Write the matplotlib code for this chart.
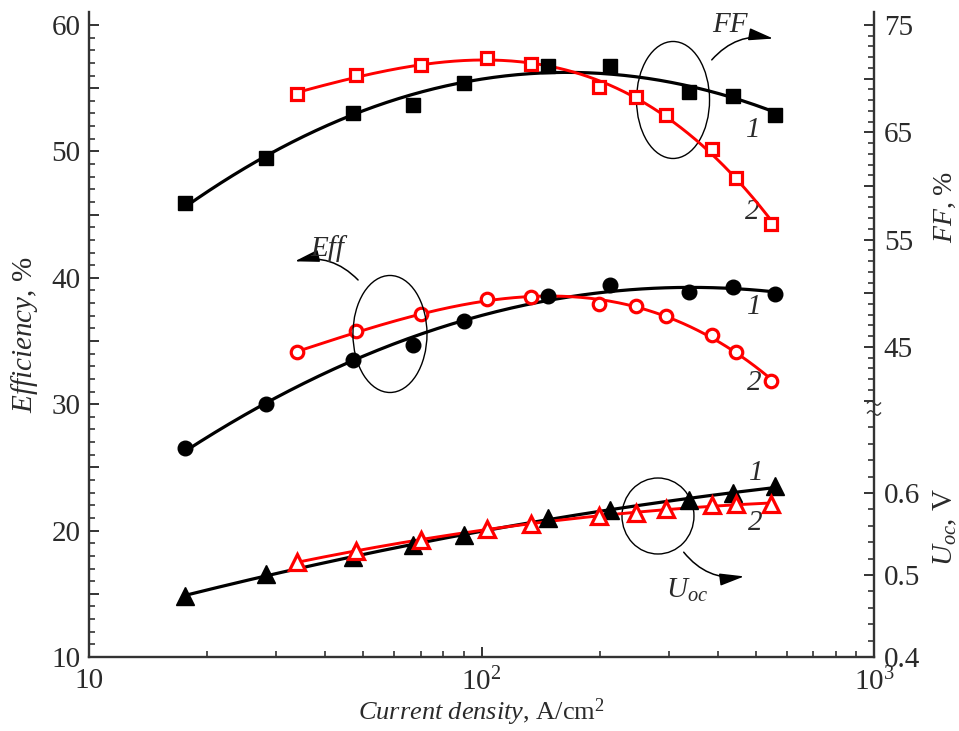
import numpy as np
import matplotlib
matplotlib.use('Agg')
import matplotlib.pyplot as plt
from matplotlib.patches import Ellipse, Rectangle
from matplotlib.ticker import FixedLocator, NullFormatter, FixedFormatter

plt.rcParams['font.family'] = ['Liberation Serif', 'DejaVu Serif']
plt.rcParams['mathtext.fontset'] = 'custom'
plt.rcParams['mathtext.rm'] = 'Liberation Serif'
plt.rcParams['mathtext.it'] = 'Liberation Serif:italic'
plt.rcParams['mathtext.bf'] = 'Liberation Serif:bold'

# ---- data ----
x_black = [17.6, 28.3, 47.0, 66.9, 90.2, 148, 212, 338, 437, 560]
x_red = [33.9, 48.0, 70.2, 103, 134, 199, 248, 295, 386, 445, 548]
eff_black = [26.5, 30.0, 33.5, 34.7, 36.6, 38.6, 39.4, 38.9, 39.3, 38.7]
eff_red = [34.1, 35.8, 37.1, 38.3, 38.5, 37.9, 37.8, 37.0, 35.5, 34.1, 31.8]
ff_black = [58.4, 62.6, 66.8, 67.5, 69.6, 71.2, 71.2, 68.8, 68.4, 66.6]
ff_red = [68.6, 70.3, 71.3, 71.9, 71.4, 69.2, 68.3, 66.6, 63.4, 60.7, 56.5]
uoc_black = [0.474, 0.501, 0.522, 0.537, 0.549, 0.569, 0.579, 0.592, 0.600, 0.608]
uoc_red = [0.516, 0.529, 0.543, 0.556, 0.562, 0.572, 0.576, 0.580, 0.585, 0.587, 0.586]

x_ticks = [10, 100, 1000]
x_ticklabels = ['10', '10$^2$', '10$^3$']
eff_ticks = [10, 20, 30, 40, 50, 60]
ff_ticks = [45, 55, 65, 75]
uoc_ticks = [0.4, 0.5, 0.6]

RED = '#ff0000'
TXT = '#2a2a2a'
SP = '#333333'
FS = 21

fig = plt.figure(figsize=(9.59, 7.31), dpi=100)
ax = fig.add_axes([89/959, 1-657/731, 785/959, 645/731])
ax_ff = ax.twinx()
ax_u = ax.twinx()

for a in (ax, ax_ff, ax_u):
    a.set_xscale('log')
    a.set_xlim(10, 1000)
    a.patch.set_visible(False)

ax.set_ylim(10, 61.03)
k = 12.64 / 10.73
ax_ff.set_ylim(75 - 50 * k, 75 + 1.03 * k)
ax_u.set_ylim(0.4, 0.4 + 645 / 820)


def fit(x, y, deg):
    lx = np.log10(x)
    p = np.polyfit(lx, y, deg)
    xs = np.linspace(lx.min(), lx.max(), 200)
    return 10 ** xs, np.polyval(p, xs)

# lines
xb = np.array(x_black); xr = np.array(x_red)
for a, yb, yr, db, dr in ((ax, eff_black, eff_red, 2, 3),
                          (ax_ff, ff_black, ff_red, 2, 3),
                          (ax_u, uoc_black, uoc_red, 2, 2)):
    fx, fy = fit(xb, np.array(yb), db)
    a.plot(fx, fy, color='black', lw=2.3, zorder=2)
    fx, fy = fit(xr, np.array(yr), dr)
    a.plot(fx, fy, color=RED, lw=2.1, zorder=2)

# markers
ax.plot(x_black, eff_black, 'o', color='black', ms=10.5, zorder=3, ls='none')
ax.plot(x_red, eff_red, 'o', mfc='white', mec=RED, mew=2.3, ms=9, zorder=4, ls='none')
ax_ff.plot(x_black, ff_black, 's', color='black', ms=10, zorder=3, ls='none')
ax_ff.plot(x_red, ff_red, 's', mfc='white', mec=RED, mew=2.3, ms=8.5, zorder=4, ls='none')
ax_u.plot(x_black, uoc_black, '^', color='black', ms=13, zorder=3, ls='none')
ax_u.plot(x_red, uoc_red, '^', mfc='white', mec=RED, mew=2.3, ms=11, zorder=4, ls='none')

# spines
for s in ('top', 'right'):
    ax.spines[s].set_visible(False)
for s in ('top', 'left', 'bottom'):
    ax_ff.spines[s].set_visible(False)
for s in ax_u.spines:
    ax_u.spines[s].set_visible(False)
for s in ('left', 'bottom'):
    ax.spines[s].set_color(SP); ax.spines[s].set_linewidth(1.7)
ax_ff.spines['right'].set_color(SP); ax_ff.spines['right'].set_linewidth(1.7)

# ticks
ax.xaxis.set_major_locator(FixedLocator(x_ticks))
ax.xaxis.set_major_formatter(FixedFormatter(x_ticklabels))
ax.xaxis.set_minor_locator(FixedLocator([m * d for d in (10, 100) for m in range(2, 10)]))
ax.xaxis.set_minor_formatter(NullFormatter())
ax.yaxis.set_major_locator(FixedLocator(np.arange(10, 61, 5)))
ax.yaxis.set_major_formatter(FixedFormatter([str(v) if v % 10 == 0 else '' for v in range(10, 61, 5)]))
ax.yaxis.set_minor_locator(FixedLocator(np.arange(10, 61, 1)))
ax.tick_params(which='both', direction='in', colors=SP, labelcolor=TXT, labelsize=FS)
ax.tick_params(which='major', length=7.5, width=1.4, pad=6)
ax.tick_params(which='minor', length=4.2, width=1.2)
ax.tick_params(axis='x', which='major', pad=8)

ffmaj = list(range(40, 76, 5))
ax_ff.yaxis.set_major_locator(FixedLocator(ffmaj))
ax_ff.yaxis.set_major_formatter(FixedFormatter([str(v) if v in ff_ticks else '' for v in ffmaj]))
ax_ff.yaxis.set_minor_locator(FixedLocator(np.arange(40, 76, 1)))
umaj = uoc_ticks
ax_u.yaxis.set_major_locator(FixedLocator(umaj))
ax_u.yaxis.set_major_formatter(FixedFormatter([f'{v:.1f}' for v in umaj]))
ax_u.yaxis.set_minor_locator(FixedLocator(np.round(np.arange(0.42, 0.69, 0.02), 2)))
for a in (ax_ff, ax_u):
    a.tick_params(which='both', direction='in', colors=SP, labelcolor=TXT, labelsize=FS)
    a.tick_params(which='major', length=7.5, width=1.4, pad=7)
    a.tick_params(which='minor', length=4.2, width=1.2)
    a.xaxis.set_visible(False)

# axis labels
ax.set_xlabel(r'$\mathit{Current\ density}$, A/cm$^2$', fontsize=19, color=TXT, labelpad=0)
ax.set_ylabel(r'$\mathit{Efficiency}$, %', fontsize=FS, color=TXT, labelpad=8)
ax.text(1.0904, 0.698, r'$\mathit{FF}$, %', transform=ax.transAxes, rotation=90,
        ha='center', va='center', fontsize=20, color=TXT)
ax.text(1.0904, 0.2016, r'$U_{oc}$, V', transform=ax.transAxes, rotation=90,
        ha='center', va='center', fontsize=FS, color=TXT)

# break mark on right spine
y_top, y_bot = (657 - 403) / 645, (657 - 413) / 645
ax.add_patch(Rectangle((1 - 4 / 785, y_bot), 8 / 785, y_top - y_bot, transform=ax.transAxes,
                       fc='white', ec='none', zorder=10, clip_on=False))
tt = np.linspace(0, 1, 30)
for y0 in (y_top, y_bot):
    ax.plot(1 + (tt - 0.5) * 13 / 785, y0 + 2.2 / 645 * np.sin(2 * np.pi * tt),
            transform=ax.transAxes, color=SP, lw=1.0, clip_on=False, zorder=11)

# annotations: ellipses
for (cx, cy, w, h) in ((0.744, 0.8636, 0.093, 0.1814),
                       (0.3834, 0.5008, 0.0943, 0.1814),
                       (0.7248, 0.2186, 0.0917, 0.1178)):
    ax.add_patch(Ellipse((cx, cy), w, h, transform=ax.transAxes, fill=False, ec='black', lw=1.0, zorder=5))

arrow_kw = dict(arrowstyle='-|>,head_length=1.0,head_width=0.25', color='black', lw=1.1, mutation_scale=15)
ax.annotate('', xy=(0.8752, 0.958), xytext=(0.791, 0.9225), xycoords='axes fraction',
            arrowprops=dict(connectionstyle='arc3,rad=-0.3', **arrow_kw))
ax.annotate('', xy=(0.2586, 0.6124), xytext=(0.3452, 0.5814), xycoords='axes fraction',
            arrowprops=dict(connectionstyle='arc3,rad=0.3', **arrow_kw))
ax.annotate('', xy=(0.8382, 0.1256), xytext=(0.7554, 0.1659), xycoords='axes fraction',
            arrowprops=dict(connectionstyle='arc3,rad=0.3', **arrow_kw))

tk = dict(transform=ax.transAxes, ha='center', va='center', fontsize=FS, color=TXT, style='italic')
ax.text(0.8166, 0.98, 'FF', **tk)
ax.text(0.3032, 0.634, 'Eff', **tk)
ax.text(0.7618, 0.1039, r'$U_{oc}$', **{k2: v for k2, v in tk.items() if k2 != 'style'})
for (tx, ty, s) in ((0.8459, 0.8171, '1'), (0.8446, 0.690, '2'),
                    (0.8471, 0.5426, '1'), (0.8471, 0.4248, '2'),
                    (0.8497, 0.2853, '1'), (0.8484, 0.2078, '2')):
    ax.text(tx, ty, s, **tk)

fig.savefig('out.png', dpi=100)
